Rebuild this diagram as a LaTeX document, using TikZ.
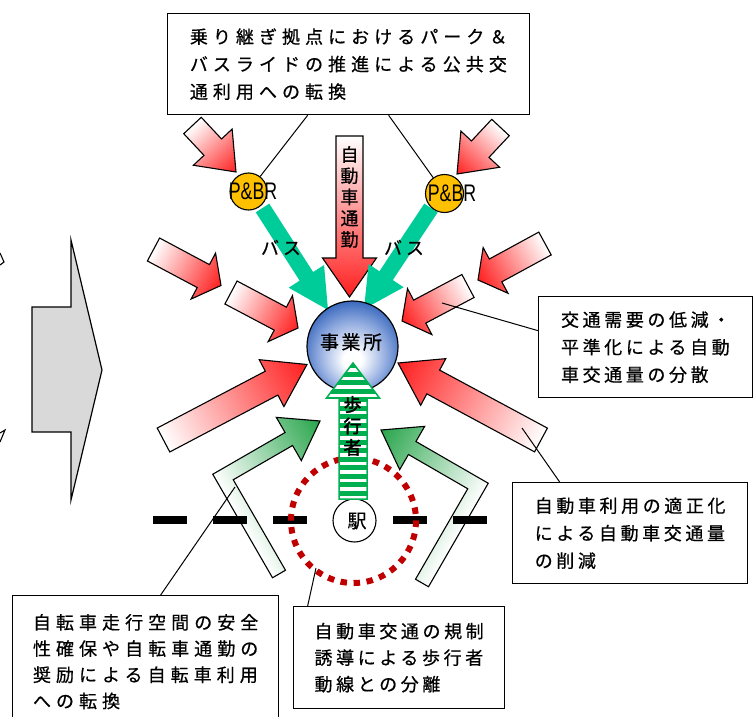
\documentclass[tikz,border=0pt]{standalone}
\usepackage{fontspec}
\usepackage{graphicx}
\newfontfamily\jp{Noto Sans CJK JP}[FakeBold=0.6]
\newfontfamily\jpwide{Noto Sans CJK JP}[LetterSpace=28,FakeBold=0.6]
\newfontfamily\jpmid{Noto Sans CJK JP}[LetterSpace=20,FakeBold=0.6]
\newfontfamily\jpbold{Noto Sans CJK JP}[FakeBold=2.5]
\newfontfamily\latinsans{Liberation Sans}
\definecolor{arrowred}{RGB}{255,30,30}
\definecolor{busgreen}{RGB}{0,204,153}
\definecolor{pbryellow}{RGB}{255,192,0}
\definecolor{orbblue}{RGB}{45,95,185}
\definecolor{orbmid}{RGB}{150,175,225}
\definecolor{bikegreen}{RGB}{40,165,75}
\definecolor{pedgreen}{RGB}{0,176,80}
\definecolor{dotred}{RGB}{192,0,0}
\definecolor{grayfill}{RGB}{217,217,217}
\pgfdeclareradialshading{orb}{\pgfpoint{0bp}{-8bp}}{color(0bp)=(white); color(5bp)=(white); color(18bp)=(orbmid); color(30bp)=(orbblue); color(50bp)=(orbblue)}
% block arrow: style, tail x, tail y, tip x, tip y, shaft width, head width, head length
\newcommand\myarrow[8]{%
  \pgfmathsetmacro\baang{atan2(-(#5-#3),#4-#2)}%
  \pgfmathsetmacro\balen{veclen(#4-#2,#5-#3)}%
  \pgfmathsetmacro\bab{\balen-#8}%
  \pgfmathsetmacro\bas{#6/2}%
  \pgfmathsetmacro\bah{#7/2}%
  \begin{scope}[transform canvas={shift={(#2,#3)},rotate=\baang}]
    \path[#1] (0,-\bas) -- (\bab,-\bas) -- (\bab,-\bah) -- (\balen,0) -- (\bab,\bah) -- (\bab,\bas) -- (0,\bas) -- cycle;
  \end{scope}}
\begin{document}
\begin{tikzpicture}[x=1pt,y=-1pt,
  redarr/.style={draw=black, line width=1.1pt, left color=white, right color=arrowred},
  busarr/.style={fill=busgreen},
  bikearr/.style={draw=black, line width=1.1pt, left color=white, right color=bikegreen},
  infobox/.style={draw=black, line width=1.3pt, fill=white, inner sep=0pt, anchor=north west, align=left},
  leader/.style={draw=black, line width=1pt},
  wtext/.style={font=\jpwide\fontsize{18}{27.5}\selectfont},
  mtext/.style={font=\jpmid\fontsize{18}{27.5}\selectfont},
  stext/.style={font=\jpmid\fontsize{18}{26.5}\selectfont}]
\useasboundingbox (0,0) rectangle (755,717);
\clip (0,0) rectangle (755,717);
\fill[white] (0,0) rectangle (755,717);

% grey block arrow and fragments at the left edge
\draw[fill=grayfill, line width=1.2pt] (32,307) -- (71,307) -- (71,240) -- (102,370) -- (71,500) -- (71,432) -- (32,432) -- cycle;
\draw[line width=1.1pt] (0,253) -- (4,262) -- (0,265);
\draw[line width=1.1pt] (0,433) -- (5,430) -- (0,442);

% red arrows
\myarrow{redarr}{192.5}{125.5}{236}{172}{24}{53}{34}
\myarrow{redarr}{500.5}{127.5}{457}{174}{24}{53}{34}
\myarrow{redarr}{349.5}{136}{349.5}{297}{27}{54}{39}
\myarrow{redarr}{153.5}{249.5}{221}{285.5}{26}{52}{20}
\myarrow{redarr}{231}{292.5}{298}{328}{26}{52}{20}
\myarrow{redarr}{163.5}{440}{307}{364.5}{27}{53}{40}
\myarrow{redarr}{545}{243.5}{478}{280}{26}{52}{20}
\myarrow{redarr}{468}{286}{402}{321}{26}{52}{20}
\myarrow{redarr}{541}{440}{398}{363}{27}{53}{40}

% bus arrows
\myarrow{busarr}{262.5}{208}{328}{310}{16}{42}{40}
\myarrow{busarr}{431}{208}{364}{309}{16}{42}{40}

% top box and P&BR
\node[infobox, minimum width=362pt, minimum height=101pt, wtext] (topbox) at (167,13)
  {乗り継ぎ拠点におけるパーク＆\\バスライドの推進による公共交\\通利用への転換};
\node[circle, draw, line width=1.1pt, fill=pbryellow, minimum size=37pt, inner sep=0pt] (pbl) at (248.5,191.5) {};
\node[circle, draw, line width=1.1pt, fill=pbryellow, minimum size=38pt, inner sep=0pt] (pbr) at (444.5,193.5) {};
\node[font=\latinsans\fontsize{24}{24}\selectfont, inner sep=0pt] (pbltxt) at (253,191.5) {\scalebox{0.74}[1]{P\&BR}};
\node[font=\latinsans\fontsize{24}{24}\selectfont, inner sep=0pt] (pbrtxt) at (452,193.5) {\scalebox{0.74}[1]{P\&BR}};
\draw[leader] ([xshift=-41pt]topbox.south) -- (pbl);
\draw[leader] ([xshift=40pt]topbox.south) -- (pbr);

% office
\node[circle, draw, line width=1.2pt, shading=orb, minimum size=91pt, inner sep=0pt] (office) at (352.5,346.5) {};
\node[font=\jp\fontsize{19}{19}\selectfont\addfontfeature{LetterSpace=13}, inner sep=0pt] (officetxt) at (351,342) {事業所};

% bike arrows
\begin{scope}[transform canvas={shift={(223,477)},rotate=30}]
  \path[bikearr] (-7.5,112) -- (-7.5,-7.5) -- (76,-7.5) -- (76,-25) -- (112,0) -- (76,25) -- (76,7.5) -- (7.5,7.5) -- (7.5,112) -- cycle;
\end{scope}
\begin{scope}[transform canvas={shift={(478,486)},rotate=-30,xscale=-1}]
  \path[bikearr] (-7.5,112) -- (-7.5,-7.5) -- (76,-7.5) -- (76,-25) -- (112,0) -- (76,25) -- (76,7.5) -- (7.5,7.5) -- (7.5,112) -- cycle;
\end{scope}

% rail line, station area
\draw[black, line width=8pt, dash pattern=on 34pt off 26pt] (153,520) -- (490,520);
\draw[dotred, line width=6pt, dash pattern=on 6.5pt off 6.59pt] (353.5,520.5) circle (62.5);
\node[circle, draw, line width=1.1pt, fill=white, minimum size=43pt, inner sep=0pt] (station) at (354.5,520.5) {};
\node[font=\jp\fontsize{19}{19}\selectfont, inner sep=0pt] (stationtxt) at (357,521) {駅};

% pedestrian arrow
\begin{scope}
  \clip (339,499) -- (339,398) -- (326.5,398) -- (353,363) -- (379.5,398) -- (367,398) -- (367,499) -- cycle;
  \fill[white] (320,360) rectangle (390,502);
  \foreach \k in {0,...,16} {
    \fill[pedgreen] (320,{363+\k*8.5}) rectangle (390,{363+\k*8.5+5});
  }
\end{scope}
\draw[pedgreen, line width=1.5pt, line join=miter] (339,499) -- (339,398) -- (326.5,398) -- (353,363) -- (379.5,398) -- (367,398) -- (367,499) -- cycle;

% labels
\node[font=\jp\fontsize{18}{21.25}\selectfont, align=center, inner sep=0pt] (commute) at (349.5,197) {自\\動\\車\\通\\勤};
\node[font=\jpbold\fontsize{18}{21.5}\selectfont, align=center, inner sep=0pt] (walker) at (352.5,426) {歩\\行\\者};
\node[font=\jp\fontsize{18}{18}\selectfont\addfontfeature{LetterSpace=22}, inner sep=0pt] (busl) at (281,247.5) {バス};
\node[font=\jp\fontsize{18}{18}\selectfont\addfontfeature{LetterSpace=22}, inner sep=0pt] (busr) at (404,247.5) {バス};

% explanation boxes
\node[infobox, minimum width=214pt, minimum height=101pt, mtext] (box1) at (538,296)
  {交通需要の低減・\\平準化による自動\\車交通量の分散};
\node[infobox, minimum width=235pt, minimum height=101pt, mtext] (box2) at (512,482)
  {自動車利用の適正化\\による自動車交通量\\の削減};
\node[infobox, minimum width=266pt, minimum height=132pt, font=\jpwide\fontsize{18}{26.2}\selectfont] (box3) at (12,595)
  {自転車走行空間の安全\\性確保や自転車通勤の\\奨励による自転車利用\\への転換};
\node[infobox, minimum width=211pt, minimum height=102pt, stext] (box4) at (293,606)
  {自動車交通の規制\\誘導による歩行者\\動線との分離};

\coordinate (l1) at (442,303);
\coordinate (l2) at (522,428);
\coordinate (l3) at (235,487);
\coordinate (l4) at (316,568);
\draw[leader] ([yshift=16.5pt]box1.west) -- (l1);
\draw[leader] ([xshift=-70.5pt]box2.north) -- (l2);
\draw[leader] ([xshift=15pt]box3.north) -- (l3);
\draw[leader] ([xshift=-91.5pt]box4.north) -- (l4);
\end{tikzpicture}
\end{document}
